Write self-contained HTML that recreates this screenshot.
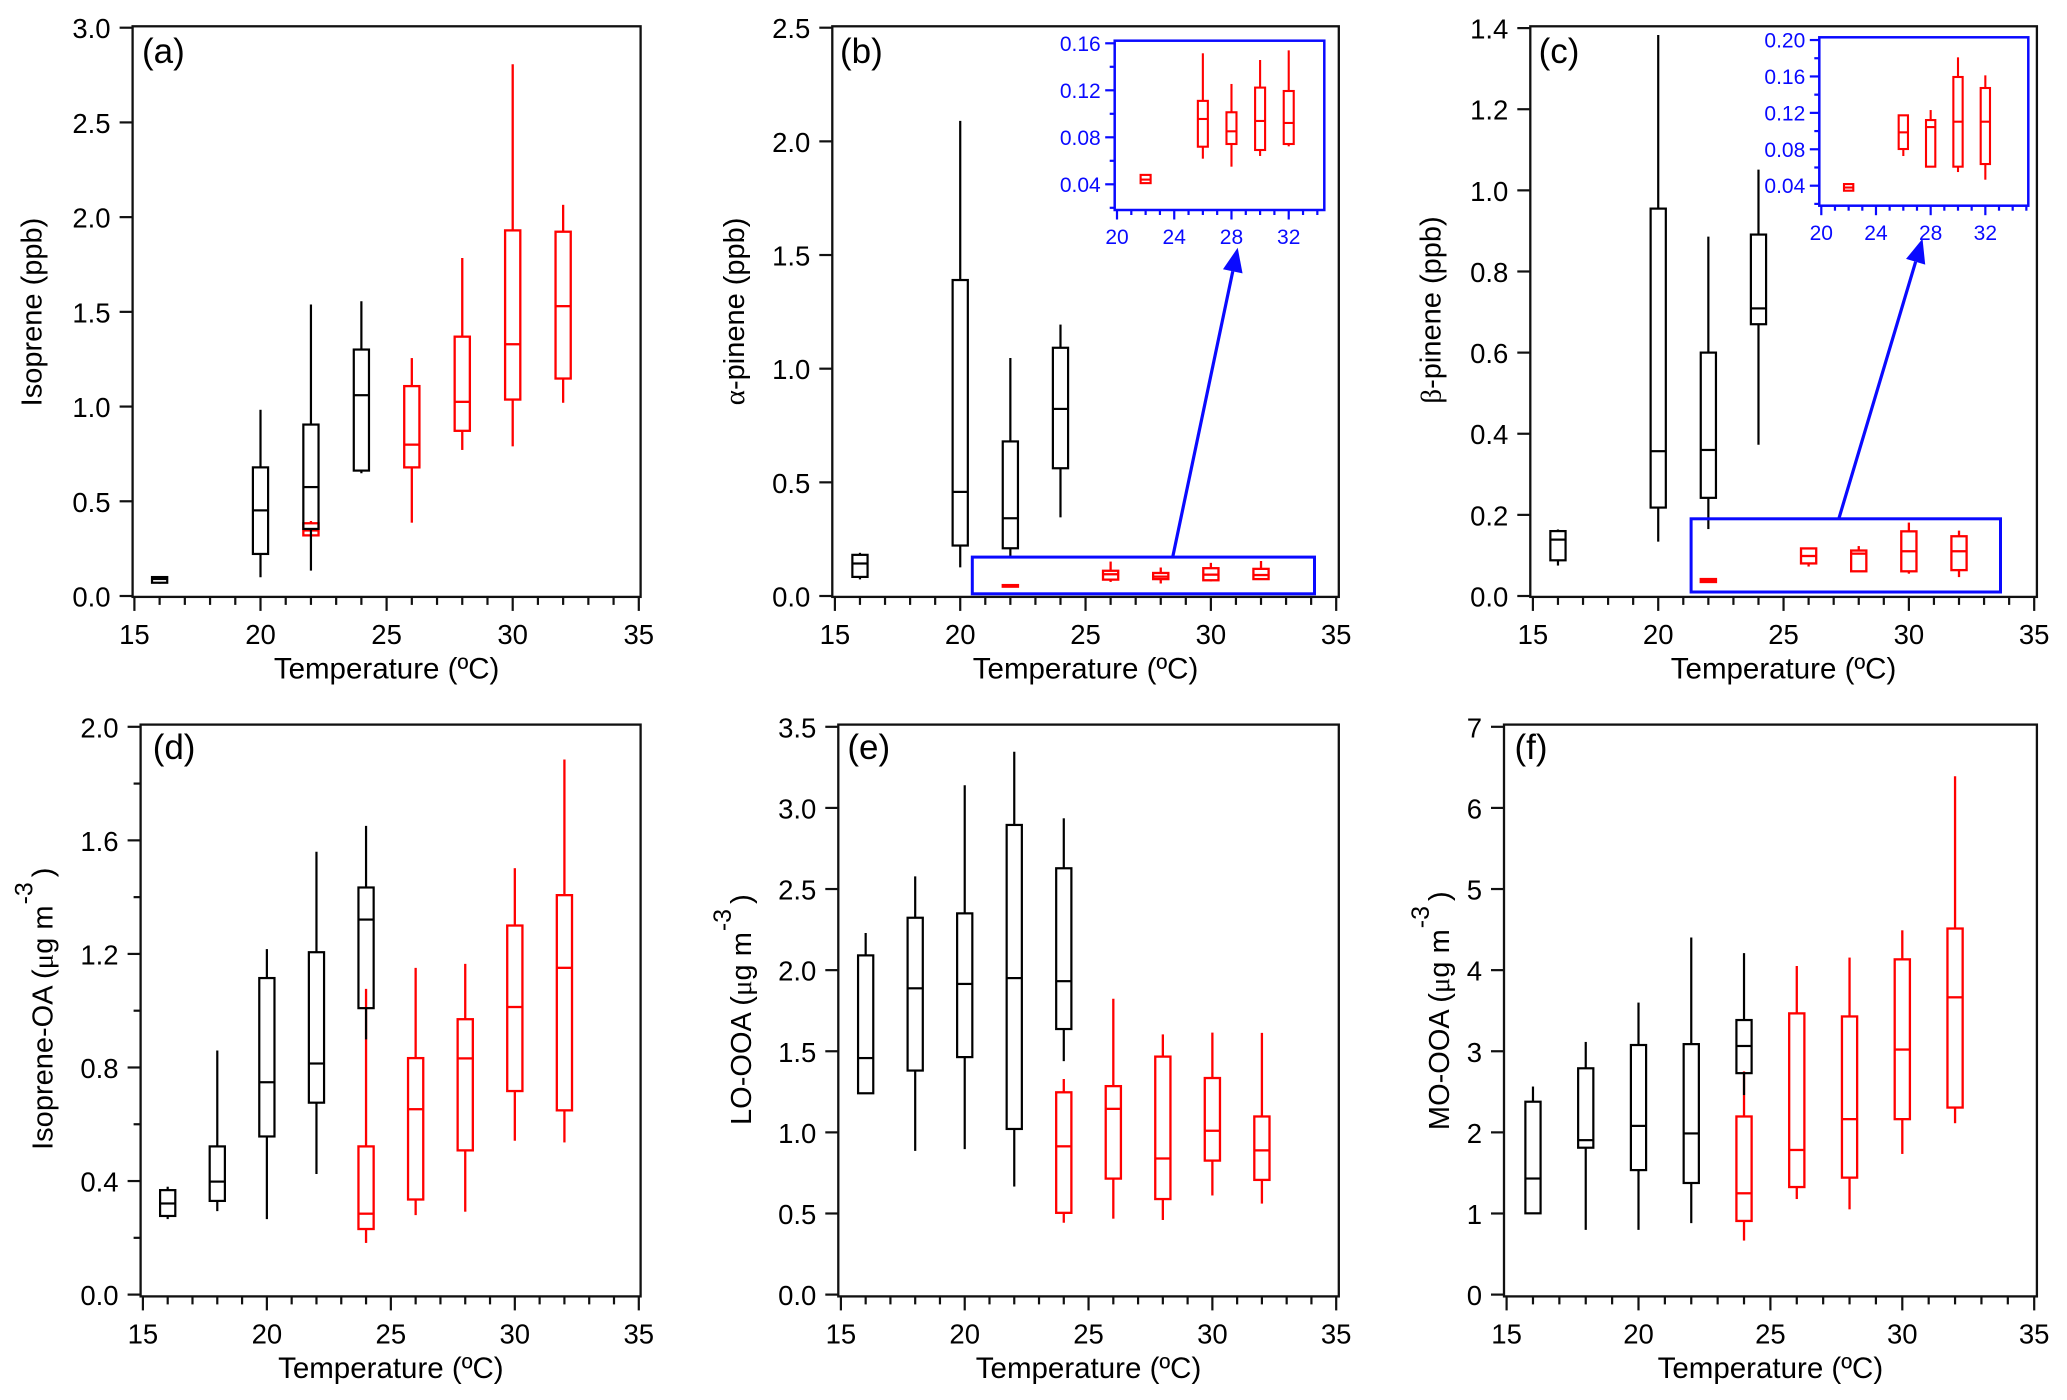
<!DOCTYPE html>
<html lang="en">
<head>
<meta charset="utf-8">
<title>Box plots versus temperature</title>
<style>
html,body{margin:0;padding:0;background:#fff;}
svg{display:block;}
text{font-family:"Liberation Sans",Arial,sans-serif;}
</style>
</head>
<body>
<svg id="fig" width="2067" height="1400" viewBox="0 0 2067 1400" xmlns="http://www.w3.org/2000/svg"></svg>
<script>
// ---------- Panel (a) Isoprene ----------
const aBlackTemps = [16, 20, 22, 24];
const aBlackMin = [0.065, 0.099, 0.134, 0.648];
const aBlackQ1 = [0.07, 0.222, 0.354, 0.662];
const aBlackMed = [0.09, 0.452, 0.575, 1.06];
const aBlackQ3 = [0.1, 0.679, 0.905, 1.301];
const aBlackMax = [0.1, 0.983, 1.539, 1.556];
const aRedTemps = [22, 26, 28, 30, 32];
const aRedMin = [0.32, 0.387, 0.771, 0.79, 1.02];
const aRedQ1 = [0.32, 0.679, 0.872, 1.037, 1.148];
const aRedMed = [0.346, 0.799, 1.025, 1.329, 1.53];
const aRedQ3 = [0.384, 1.108, 1.369, 1.93, 1.923];
const aRedMax = [0.396, 1.256, 1.784, 2.807, 2.065];
const aYTickLabels = ['0.0', '0.5', '1.0', '1.5', '2.0', '2.5', '3.0'];

// ---------- Panel (b) alpha-pinene ----------
const bBlackTemps = [16, 20, 22, 24];
const bBlackMin = [0.073, 0.126, 0.165, 0.346];
const bBlackQ1 = [0.084, 0.222, 0.21, 0.562];
const bBlackMed = [0.143, 0.458, 0.342, 0.823];
const bBlackQ3 = [0.181, 1.39, 0.68, 1.092];
const bBlackMax = [0.19, 2.09, 1.047, 1.194];
const bRedTemps = [22, 26, 28, 30, 32];
const bRedMin = [0.0405, 0.0618, 0.055, 0.0641, 0.0723];
const bRedQ1 = [0.041, 0.072, 0.0743, 0.0692, 0.0743];
const bRedMed = [0.044, 0.0956, 0.0851, 0.0939, 0.0922];
const bRedQ3 = [0.048, 0.111, 0.1013, 0.1223, 0.1194];
const bRedMax = [0.048, 0.1515, 0.1254, 0.1458, 0.154];
const bYTickLabels = ['0.0', '0.5', '1.0', '1.5', '2.0', '2.5'];
const bInsetYTickLabels = ['0.04', '0.08', '0.12', '0.16'];
const bInsetYMinorTicks = [0.02, 0.06, 0.10, 0.14];

// ---------- Panel (c) beta-pinene ----------
const cBlackTemps = [16, 20, 22, 24];
const cBlackMin = [0.075, 0.134, 0.165, 0.373];
const cBlackQ1 = [0.088, 0.218, 0.242, 0.67];
const cBlackMed = [0.139, 0.357, 0.36, 0.709];
const cBlackQ3 = [0.16, 0.955, 0.6, 0.891];
const cBlackMax = [0.164, 1.383, 0.886, 1.051];
const cRedTemps = [22, 26, 28, 30, 32];
const cRedMin = [0.0345, 0.0726, 0.0601, 0.055, 0.0466];
const cRedQ1 = [0.0345, 0.0803, 0.0609, 0.0609, 0.0638];
const cRedMed = [0.038, 0.0986, 0.1044, 0.1103, 0.1103];
const cRedQ3 = [0.0418, 0.1173, 0.1121, 0.1594, 0.1473];
const cRedMax = [0.0418, 0.1173, 0.1231, 0.181, 0.1612];
const cYTickLabels = ['0.0', '0.2', '0.4', '0.6', '0.8', '1.0', '1.2', '1.4'];
const cInsetYTickLabels = ['0.04', '0.08', '0.12', '0.16', '0.20'];
const cInsetYMinorTicks = [0.02, 0.06, 0.10, 0.14, 0.18];

// ---------- Panel (d) Isoprene-OA ----------
const dBlackTemps = [16, 18, 20, 22, 24];
const dBlackMin = [0.266, 0.294, 0.266, 0.425, 0.899];
const dBlackQ1 = [0.277, 0.33, 0.557, 0.676, 1.009];
const dBlackMed = [0.321, 0.398, 0.748, 0.814, 1.321];
const dBlackQ3 = [0.368, 0.522, 1.115, 1.206, 1.434];
const dBlackMax = [0.38, 0.86, 1.217, 1.56, 1.651];
const dRedTemps = [24, 26, 28, 30, 32];
const dRedMin = [0.182, 0.28, 0.292, 0.542, 0.536];
const dRedQ1 = [0.231, 0.335, 0.508, 0.717, 0.649];
const dRedMed = [0.285, 0.653, 0.832, 1.013, 1.151];
const dRedQ3 = [0.522, 0.833, 0.97, 1.3, 1.407];
const dRedMax = [1.077, 1.151, 1.165, 1.502, 1.885];
const dYTickLabels = ['0.0', '0.4', '0.8', '1.2', '1.6', '2.0'];
const dYMinorTicks = [0.2, 0.6, 1.0, 1.4, 1.8];

// ---------- Panel (e) LO-OOA ----------
const eBlackTemps = [16, 18, 20, 22, 24];
const eBlackMin = [1.241, 0.886, 0.897, 0.666, 1.439];
const eBlackQ1 = [1.241, 1.381, 1.464, 1.021, 1.637];
const eBlackMed = [1.458, 1.888, 1.915, 1.951, 1.932];
const eBlackQ3 = [2.091, 2.323, 2.35, 2.895, 2.628];
const eBlackMax = [2.229, 2.578, 3.14, 3.346, 2.936];
const eRedTemps = [24, 26, 28, 30, 32];
const eRedMin = [0.443, 0.468, 0.46, 0.611, 0.561];
const eRedQ1 = [0.504, 0.715, 0.589, 0.826, 0.707];
const eRedMed = [0.914, 1.145, 0.839, 1.01, 0.889];
const eRedQ3 = [1.247, 1.285, 1.467, 1.335, 1.098];
const eRedMax = [1.329, 1.824, 1.604, 1.615, 1.613];
const eYTickLabels = ['0.0', '0.5', '1.0', '1.5', '2.0', '2.5', '3.0', '3.5'];

// ---------- Panel (f) MO-OOA ----------
const fBlackTemps = [16, 18, 20, 22, 24];
const fBlackMin = [1.002, 0.798, 0.798, 0.881, 2.46];
const fBlackQ1 = [1.002, 1.811, 1.535, 1.376, 2.73];
const fBlackMed = [1.431, 1.904, 2.08, 1.987, 3.065];
const fBlackQ3 = [2.378, 2.79, 3.077, 3.088, 3.385];
const fBlackMax = [2.565, 3.115, 3.6, 4.403, 4.21];
const fRedTemps = [24, 26, 28, 30, 32];
const fRedMin = [0.666, 1.178, 1.051, 1.734, 2.113];
const fRedQ1 = [0.908, 1.326, 1.442, 2.163, 2.306];
const fRedMed = [1.249, 1.783, 2.163, 3.021, 3.665];
const fRedQ3 = [2.196, 3.467, 3.429, 4.133, 4.513];
const fRedMax = [2.752, 4.051, 4.155, 4.491, 6.39];
const fYTickLabels = ['0', '1', '2', '3', '4', '5', '6', '7'];

// ---------- Shared x axis ----------
const xTickLabels = ['15', '20', '25', '30', '35'];
const xMinorTicks = [16, 17, 18, 19, 21, 22, 23, 24, 26, 27, 28, 29, 31, 32, 33, 34];
const insetXTickLabels = ['20', '24', '28', '32'];
const bInsetXMinorTicks = [21, 22, 23, 25, 26, 27, 29, 30, 31, 33, 34];
const cInsetXMinorTicks = [21, 22, 23, 25, 26, 27, 29, 30, 31, 33, 34, 35];

const SVGNS = 'http://www.w3.org/2000/svg';
const BLACK = '#000';
const RED = '#ff0000';
const BLUE = '#0a0aff';
const fig = document.getElementById('fig');

function mk(tag, attrs, parent, text) {
  const el = document.createElementNS(SVGNS, tag);
  for (const k in attrs) el.setAttribute(k, attrs[k]);
  if (text !== undefined) el.textContent = text;
  parent.appendChild(el);
  return el;
}

function drawBox(parent, name, x, mn, q1, med, q3, mx, sx, sy, w, color, sw) {
  const g = mk('g', { fill: 'none', stroke: color, 'stroke-width': sw }, parent);
  
  
  const cx = sx(x);
  const up = mk('line', { x1: cx, x2: cx, y1: sy(mx), y2: sy(q3) }, g);
  
  
  const lo = mk('line', { x1: cx, x2: cx, y1: sy(q1), y2: sy(mn) }, g);
  
  
  const b = mk('rect', { x: cx - w / 2, y: sy(q3), width: w, height: Math.max(0, sy(q1) - sy(q3)) }, g);
  
  
  const m = mk('line', { x1: cx - w / 2, x2: cx + w / 2, y1: sy(med), y2: sy(med) }, g);
  
  
}

function drawSeries(parent, prefix, s, sx, sy, w, color, sw) {
  s.t.forEach(function (t, i) {
    drawBox(parent, prefix + '-box-' + t + 'c', t, s.min[i], s.q1[i], s.med[i], s.q3[i], s.max[i], sx, sy, w, color, sw);
  });
}

function makeArrow(parent, name, x1, y1, x2, y2) {
  const dx = x2 - x1, dy = y2 - y1, L = Math.hypot(dx, dy);
  const ux = dx / L, uy = dy / L, hl = 24, hw = 10;
  const bx = x2 - ux * hl, by = y2 - uy * hl;
  const g = mk('g', {}, parent);
  
  
  mk('line', { x1: x1, y1: y1, x2: bx, y2: by, stroke: BLUE, 'stroke-width': 3.2 }, g);
  mk('polygon', { points: x2 + ',' + y2 + ' ' + (bx - uy * hw) + ',' + (by + ux * hw) + ' ' + (bx + uy * hw) + ',' + (by - ux * hw), fill: BLUE }, g);
}

function drawInset(parent, cfg, red) {
  const g = mk('g', {}, parent);
  
  
  const sx = function (v) { return cfg.x20 + (v - 20) * cfg.xUnit; };
  const sy = function (v) { return cfg.y04 - (v - 0.04) * cfg.yUnit; };
  mk('rect', { x: cfg.l, y: cfg.t, width: cfg.r - cfg.l, height: cfg.b - cfg.t, fill: '#fff', stroke: BLUE, 'stroke-width': 2.5 }, g);
  cfg.yLabels.forEach(function (lab) {
    const v = parseFloat(lab);
    mk('line', { x1: cfg.l - 9.5, x2: cfg.l, y1: sy(v), y2: sy(v), stroke: BLUE, 'stroke-width': 2.2 }, g);
    const t = mk('text', { x: cfg.l - 14, y: sy(v) + 7.5, 'text-anchor': 'end', 'font-size': 21, fill: BLUE }, g, lab);
    
    
  });
  cfg.yMinor.forEach(function (v) {
    mk('line', { x1: cfg.l - 5, x2: cfg.l, y1: sy(v), y2: sy(v), stroke: BLUE, 'stroke-width': 2.2 }, g);
  });
  insetXTickLabels.forEach(function (lab) {
    const v = parseFloat(lab);
    mk('line', { x1: sx(v), x2: sx(v), y1: cfg.b, y2: cfg.b + 9.5, stroke: BLUE, 'stroke-width': 2.2 }, g);
    const t = mk('text', { x: sx(v), y: cfg.xLabelY, 'text-anchor': 'middle', 'font-size': 21, fill: BLUE }, g, lab);
    
    
  });
  cfg.xMinor.forEach(function (v) {
    mk('line', { x1: sx(v), x2: sx(v), y1: cfg.b, y2: cfg.b + 5, stroke: BLUE, 'stroke-width': 2.2 }, g);
  });
  drawSeries(g, 'inset-red', red, sx, sy, cfg.boxW, RED, 2.1);
}

function drawPanel(p) {
  const g = mk('g', {}, fig);
  
  
  const sx = function (v) { return p.x15 + (v - 15) * (p.x35 - p.x15) / 20; };
  const sy = function (v) { return p.y0 - v * (p.y0 - p.yTop) / p.yMax; };

  const frame = mk('rect', { x: p.l, y: p.t, width: p.r - p.l, height: p.b - p.t, fill: '#fff', stroke: '#111', 'stroke-width': 2.3 }, g);
  
  

  const xAxis = mk('g', {}, g);
  
  
  xTickLabels.forEach(function (lab) {
    const v = parseFloat(lab);
    mk('line', { x1: sx(v), x2: sx(v), y1: p.b, y2: p.b + 14, stroke: '#111', 'stroke-width': 2.2 }, xAxis);
    const t = mk('text', { x: sx(v), y: p.b + 47, 'text-anchor': 'middle', 'font-size': 27.5, fill: '#000' }, xAxis, lab);
    
    
  });
  xMinorTicks.forEach(function (v) {
    mk('line', { x1: sx(v), x2: sx(v), y1: p.b, y2: p.b + 8, stroke: '#111', 'stroke-width': 2.2 }, xAxis);
  });
  const xTitle = mk('text', { x: (p.x15 + p.x35) / 2, y: p.b + 81.5, 'text-anchor': 'middle', 'font-size': 29.5, fill: '#000' }, xAxis, 'Temperature (\u00BAC)');
  
  

  const yAxis = mk('g', {}, g);
  
  
  p.yLabels.forEach(function (lab) {
    const v = parseFloat(lab);
    mk('line', { x1: p.l - 13, x2: p.l, y1: sy(v), y2: sy(v), stroke: '#111', 'stroke-width': 2.2 }, yAxis);
    const t = mk('text', { x: p.l - 22, y: sy(v) + 10.5, 'text-anchor': 'end', 'font-size': 27.5, fill: '#000' }, yAxis, lab);
    
    
  });
  (p.yMinor || []).forEach(function (v) {
    mk('line', { x1: p.l - 7, x2: p.l, y1: sy(v), y2: sy(v), stroke: '#111', 'stroke-width': 2.2 }, yAxis);
  });
  const yTitle = mk('text', { transform: 'translate(' + p.yTitleX + ',' + p.yTitleY + ') rotate(-90)', 'text-anchor': 'middle', 'font-size': 29, fill: '#000' }, yAxis);
  yTitle.innerHTML = p.yTitle;
  
  

  const label = mk('text', { x: p.labelX, y: p.labelY, 'font-size': 35, fill: '#000' }, g, '(' + p.id + ')');
  
  

  const plot = mk('g', {}, g);
  
  
  drawSeries(plot, 'red', p.red, sx, sy, 15.2, RED, 2.3);
  drawSeries(plot, 'black', p.black, sx, sy, 15.2, BLACK, 2.2);

  if (p.hl) {
    const h = mk('rect', { x: p.hl[0], y: p.hl[1], width: p.hl[2] - p.hl[0], height: p.hl[3] - p.hl[1], fill: 'none', stroke: BLUE, 'stroke-width': 3 }, g);
    
    
  }
  if (p.inset) drawInset(g, p.inset, p.red);
  if (p.arrow) makeArrow(g, 'zoom-callout-arrow', p.arrow[0], p.arrow[1], p.arrow[2], p.arrow[3]);
}

const ugm = function (name) {
  return name + ' (<tspan font-family="Liberation Serif">\u03BC</tspan>g m<tspan font-size="25" dy="-20" dx="1">-3</tspan><tspan dy="20" dx="5">)</tspan>';
};

const panels = [
  { id: 'a', l: 132.6, r: 640.6, t: 26.3, b: 596.9, x15: 134.4, x35: 638.8, y0: 596, yTop: 27.7, yMax: 3,
    yLabels: aYTickLabels, yTitle: 'Isoprene (ppb)', yTitleX: 41.5, yTitleY: 312, labelX: 142, labelY: 63,
    black: { t: aBlackTemps, min: aBlackMin, q1: aBlackQ1, med: aBlackMed, q3: aBlackQ3, max: aBlackMax },
    red: { t: aRedTemps, min: aRedMin, q1: aRedQ1, med: aRedMed, q3: aRedQ3, max: aRedMax } },
  { id: 'b', l: 832.3, r: 1338.8, t: 26.3, b: 596.9, x15: 834.9, x35: 1336.2, y0: 596, yTop: 27.7, yMax: 2.5,
    yLabels: bYTickLabels, yTitle: '<tspan font-family="Liberation Serif">\u03B1</tspan>-pinene (ppb)', yTitleX: 744, yTitleY: 311.4, labelX: 840, labelY: 63,
    hl: [972.3, 557.1, 1314.5, 593.8], arrow: [1172.7, 557.1, 1237.7, 247.8],
    inset: { l: 1114.7, r: 1324.3, t: 40.7, b: 210, x20: 1117, xUnit: 14.31, y04: 184.3, yUnit: 1175, boxW: 10, xLabelY: 244,
      yLabels: bInsetYTickLabels, yMinor: bInsetYMinorTicks, xMinor: bInsetXMinorTicks },
    black: { t: bBlackTemps, min: bBlackMin, q1: bBlackQ1, med: bBlackMed, q3: bBlackQ3, max: bBlackMax },
    red: { t: bRedTemps, min: bRedMin, q1: bRedQ1, med: bRedMed, q3: bRedQ3, max: bRedMax } },
  { id: 'c', l: 1530.3, r: 2036.9, t: 26.3, b: 596.9, x15: 1532.9, x35: 2034.2, y0: 596, yTop: 28.1, yMax: 1.4,
    yLabels: cYTickLabels, yTitle: '<tspan font-family="Liberation Serif">\u03B2</tspan>-pinene (ppb)', yTitleX: 1440.5, yTitleY: 310, labelX: 1538.6, labelY: 63,
    hl: [1691.1, 518.8, 2000.5, 592], arrow: [1838.8, 518.8, 1922.5, 238.8],
    inset: { l: 1819.3, r: 2028.3, t: 37.3, b: 205.7, x20: 1821.3, xUnit: 13.67, y04: 185.7, yUnit: 910.4, boxW: 9.3, xLabelY: 240,
      yLabels: cInsetYTickLabels, yMinor: cInsetYMinorTicks, xMinor: cInsetXMinorTicks },
    black: { t: cBlackTemps, min: cBlackMin, q1: cBlackQ1, med: cBlackMed, q3: cBlackQ3, max: cBlackMax },
    red: { t: cRedTemps, min: cRedMin, q1: cRedQ1, med: cRedMed, q3: cRedQ3, max: cRedMax } },
  { id: 'd', l: 140.6, r: 640.6, t: 724.6, b: 1296.4, x15: 142.9, x35: 638.8, y0: 1294.6, yTop: 726.8, yMax: 2,
    yLabels: dYTickLabels, yMinor: dYMinorTicks, yTitle: ugm('Isoprene-OA'), yTitleX: 52.7, yTitleY: 1008.7, labelX: 152.7, labelY: 759,
    black: { t: dBlackTemps, min: dBlackMin, q1: dBlackQ1, med: dBlackMed, q3: dBlackQ3, max: dBlackMax },
    red: { t: dRedTemps, min: dRedMin, q1: dRedQ1, med: dRedMed, q3: dRedQ3, max: dRedMax } },
  { id: 'e', l: 838.3, r: 1338.8, t: 724.6, b: 1296.4, x15: 840.9, x35: 1336.2, y0: 1294.6, yTop: 726.8, yMax: 3.5,
    yLabels: eYTickLabels, yTitle: ugm('LO-OOA'), yTitleX: 751, yTitleY: 1009.6, labelX: 847.4, labelY: 759,
    black: { t: eBlackTemps, min: eBlackMin, q1: eBlackQ1, med: eBlackMed, q3: eBlackQ3, max: eBlackMax },
    red: { t: eRedTemps, min: eRedMin, q1: eRedQ1, med: eRedMed, q3: eRedQ3, max: eRedMax } },
  { id: 'f', l: 1504, r: 2036.9, t: 724.6, b: 1296.4, x15: 1506.6, x35: 2034.2, y0: 1294.6, yTop: 726.8, yMax: 7,
    yLabels: fYTickLabels, yTitle: ugm('MO-OOA'), yTitleX: 1449, yTitleY: 1010.7, labelX: 1514.5, labelY: 759,
    black: { t: fBlackTemps, min: fBlackMin, q1: fBlackQ1, med: fBlackMed, q3: fBlackQ3, max: fBlackMax },
    red: { t: fRedTemps, min: fRedMin, q1: fRedQ1, med: fRedMed, q3: fRedQ3, max: fRedMax } }
];

panels.forEach(drawPanel);
</script>
</body>
</html>
